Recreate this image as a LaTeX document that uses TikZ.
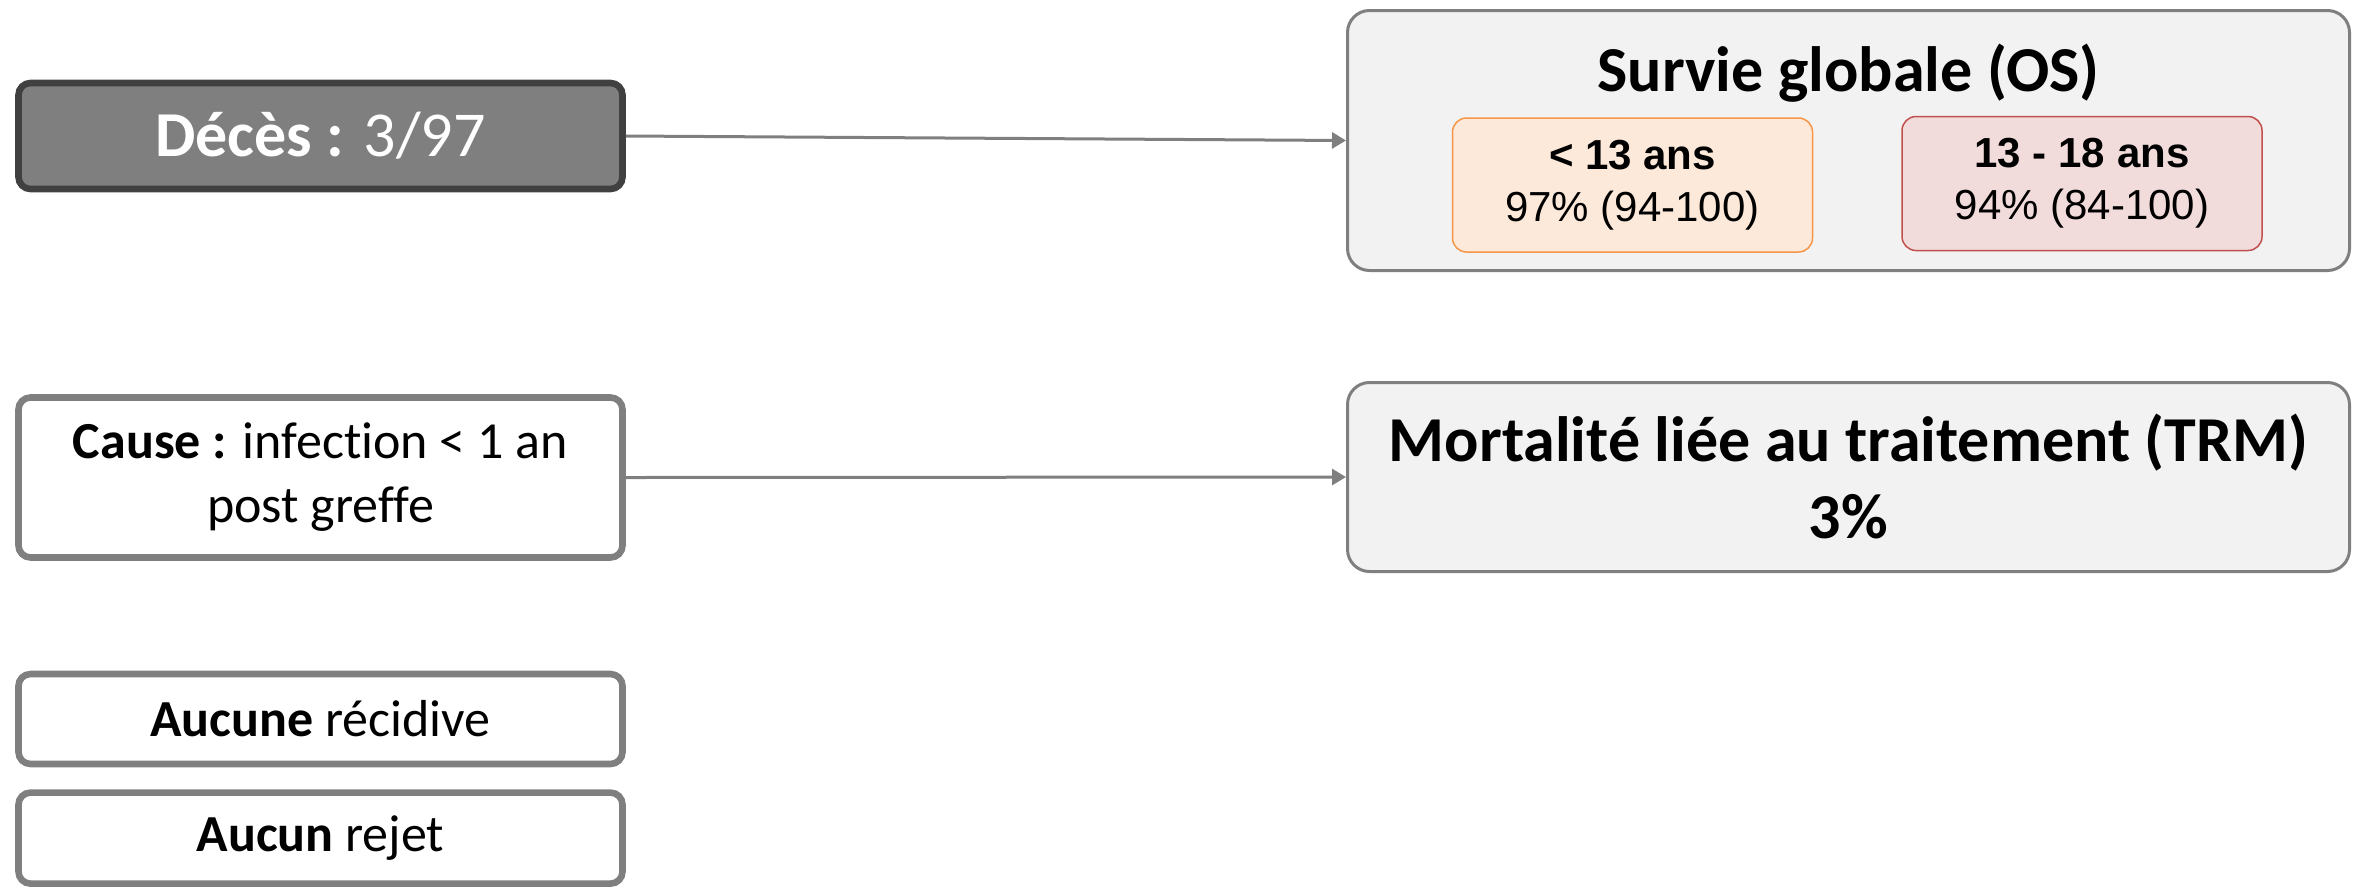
\documentclass[tikz,border=0pt]{standalone}
\usepackage{fontspec}
\setmainfont{Carlito}[Ligatures=CommonOff]
\newfontfamily\arialfont{Liberation Sans}
\definecolor{darkgrey}{HTML}{404040}
\definecolor{midgrey}{HTML}{7F7F7F}
\definecolor{lightgrey}{HTML}{F2F2F2}
\definecolor{peach}{HTML}{FDE9D9}
\definecolor{orangeline}{HTML}{F79646}
\definecolor{rose}{HTML}{F2DCDB}
\definecolor{redline}{HTML}{C0504D}
\usetikzlibrary{arrows.meta}
\usetikzlibrary{positioning}
\tikzstyle{leftbox} = [draw=midgrey, fill=white, line width=3.3pt, rounded corners=6pt, minimum width=302pt, align=center, font=\fontsize{26}{32}\selectfont]
\tikzstyle{rightbox} = [draw=midgrey, fill=lightgrey, line width=1.5pt, rounded corners=11pt, minimum width=501pt, align=center, font=\bfseries\fontsize{32}{38.5}\selectfont]
\tikzstyle{agebox} = [line width=0.75pt, rounded corners=7pt, minimum width=180pt, minimum height=67pt, align=center, font=\arialfont\fontsize{21}{26}\selectfont]
\tikzstyle{link} = [draw=midgrey, line width=1.5pt, -{Triangle[length=7pt,width=8pt]}]

\begin{document}
\begin{tikzpicture}[x=0.5pt, y=-0.5pt]
\useasboundingbox (0,0) rectangle (2369,890);

% left column
\node[leftbox, draw=darkgrey, fill=midgrey, text=white, minimum height=53pt, font=\fontsize{32}{38}\selectfont] (deces) at (320.5,136) {\textbf{Décès :} 3/97};
\node[leftbox, minimum height=80pt] (cause) at (320.5,477.5) {\textbf{Cause :} infection < 1 an\\post greffe};
\node[leftbox, minimum height=45pt] (recid) at (320.5,719) {\textbf{Aucune} récidive};
\node[leftbox, minimum height=45.5pt, below=11pt of recid] (rejet) {\textbf{Aucun} rejet};

% right column
\node[rightbox, minimum height=130pt] (os) at (1848.5,140.5) {};
\node[font=\bfseries\fontsize{32}{38}\selectfont] (ostitle) at (1848.5,73) {Survie globale (OS)};
\node[agebox, draw=orangeline, fill=peach] (young) at (1632.5,185) {\textbf{< 13 ans}\\97\% (94-100)};
\node[agebox, draw=redline, fill=rose] (teen) at (2082,183.5) {\textbf{13 - 18 ans}\\94\% (84-100)};
\node[rightbox, minimum height=94.5pt] (trm) at (1848.5,477) {Mortalité liée au traitement (TRM)\\3\%};

\draw[link] (deces.east) -- (os.west);
\draw[link] (cause.east) -- (trm.west);

\end{tikzpicture}
\end{document}
